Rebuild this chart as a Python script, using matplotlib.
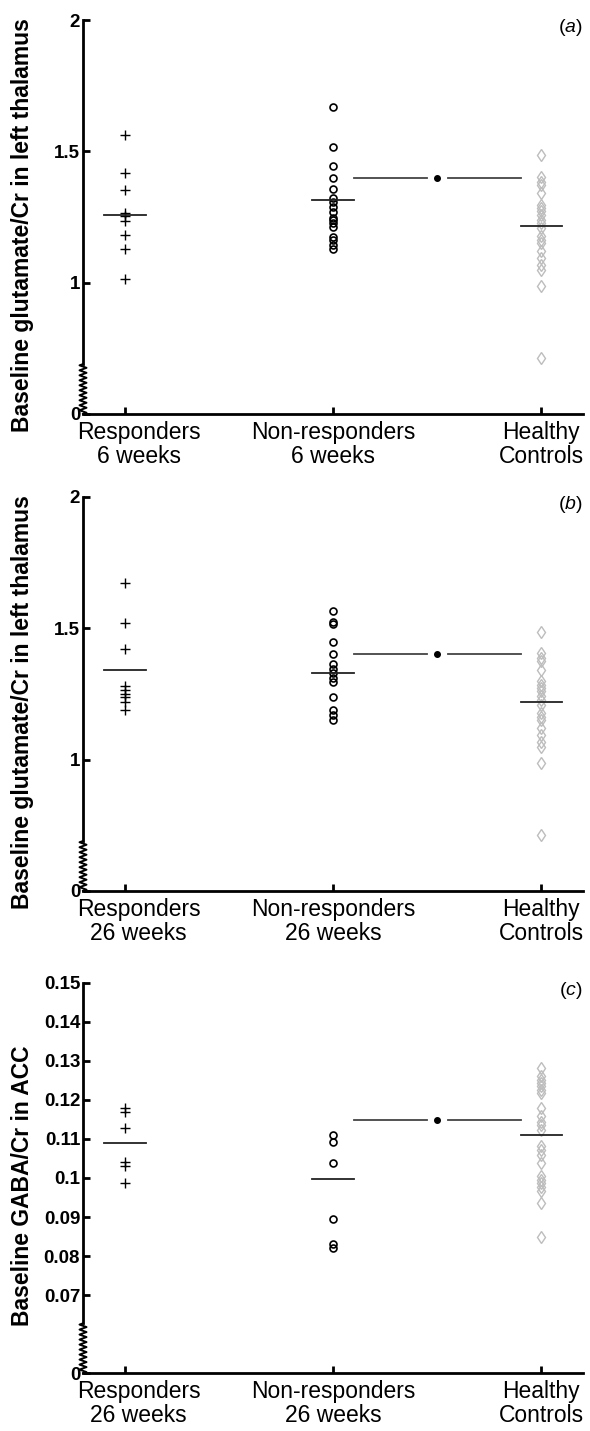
import numpy as np
import matplotlib
matplotlib.use("Agg")
import matplotlib.pyplot as plt
import matplotlib.transforms as mtransforms

plt.rcParams['font.family'] = ['Liberation Sans', 'DejaVu Sans']
plt.rcParams['mathtext.fontset'] = 'custom'
plt.rcParams['mathtext.it'] = 'Liberation Sans:italic'
plt.rcParams['mathtext.rm'] = 'Liberation Sans'

# ---- data ----
glu_resp_6wk = [1.563, 1.418, 1.354, 1.265, 1.255, 1.233, 1.183, 1.130, 1.014]
glu_nonresp_6wk = [1.669, 1.517, 1.445, 1.397, 1.356, 1.324, 1.309, 1.290, 1.269,
                   1.246, 1.237, 1.227, 1.211, 1.174, 1.161, 1.142, 1.128]
glu_resp_26wk = [1.671, 1.519, 1.420, 1.280, 1.265, 1.250, 1.236, 1.218, 1.189]
glu_nonresp_26wk = [1.567, 1.523, 1.517, 1.446, 1.402, 1.364, 1.345, 1.328, 1.311,
                    1.294, 1.237, 1.187, 1.168, 1.152]
glu_healthy = [1.487, 1.404, 1.385, 1.373, 1.341, 1.297, 1.284, 1.271, 1.259, 1.240,
               1.227, 1.208, 1.176, 1.163, 1.151, 1.119, 1.094, 1.068, 1.049, 0.986, 0.714]

gaba_resp_26wk = [0.1180, 0.1169, 0.1127, 0.1041, 0.1030, 0.0986]
gaba_nonresp_26wk = [0.1111, 0.1092, 0.1039, 0.0896, 0.0831, 0.0820]
gaba_healthy = [0.1282, 0.1260, 0.1252, 0.1243, 0.1235, 0.1226, 0.1218, 0.1180, 0.1158,
                0.1143, 0.1135, 0.1124, 0.1082, 0.1071, 0.1060, 0.1039, 0.1004, 0.0995,
                0.0987, 0.0976, 0.0967, 0.0937, 0.0848]

means_a = [1.256, 1.316, 1.217]
means_b = [1.340, 1.331, 1.220]
means_c = [0.1089, 0.0998, 0.1109]
sig_a, sig_b, sig_c = 1.40, 1.40, 0.1148

glu_ticks = [0.5, 1, 1.5, 2]
glu_ticklabels = ['0', '1', '1.5', '2']
gaba_ticks = [0.05, 0.07, 0.08, 0.09, 0.10, 0.11, 0.12, 0.13, 0.14, 0.15]
gaba_ticklabels = ['0', '0.07', '0.08', '0.09', '0.1', '0.11', '0.12', '0.13', '0.14', '0.15']

xlabels_6 = ['Responders\n6 weeks', 'Non-responders\n6 weeks', 'Healthy\nControls']
xlabels_26 = ['Responders\n26 weeks', 'Non-responders\n26 weeks', 'Healthy\nControls']


def draw_panel(ax, groups, means, sig_y, ylim, brk, ticks, ticklabels, xlabels, ylabel, tag):
    pos = [1, 2, 3]
    styles = [dict(marker='+', ms=7, mew=1.0, color='black', mfc='none'),
              dict(marker='o', ms=5, mew=1.2, color='black', mfc='none'),
              dict(marker='d', ms=6.5, mew=1.0, color='#bdbdbd', mfc='none')]
    for p, vals, st in zip(pos, groups, styles):
        ax.plot([p] * len(vals), vals, ls='none', clip_on=False, **st)
    for p, m in zip(pos, means):
        ax.plot([p - 0.1, p + 0.1], [m, m], color='#222222', lw=1.3)
    # significance bar
    ax.plot([2.1, 2.45], [sig_y, sig_y], color='#444444', lw=1.3)
    ax.plot([2.55, 2.9], [sig_y, sig_y], color='#444444', lw=1.3)
    ax.plot([2.5], [sig_y], marker='o', ms=4, color='black')

    ax.set_xlim(0.8, 3.2)
    ax.set_ylim(*ylim)
    ax.spines['top'].set_visible(False)
    ax.spines['right'].set_visible(False)
    ax.spines['left'].set_linewidth(2)
    ax.spines['bottom'].set_linewidth(2)
    ax.spines['left'].set_bounds(brk, ylim[1])

    # broken-axis zigzag
    n = 20
    zy = np.linspace(ylim[0], brk, 2 * n + 1)
    zx = np.zeros_like(zy)
    zx[1::2] = np.where(np.arange(n) % 2 == 0, 0.007, -0.007)
    ax.plot(zx, zy, color='black', lw=1.4, transform=ax.get_yaxis_transform(), clip_on=False)

    ax.set_yticks(ticks)
    ax.set_yticklabels(ticklabels, fontweight='bold', fontsize=13.5)
    ax.set_xticks(pos)
    ax.set_xticklabels(xlabels, fontsize=16.5, linespacing=1.05)
    ax.tick_params(axis='both', direction='in', length=5, width=2, pad=2)
    ax.tick_params(axis='x', pad=5)
    # first category label sits a bit to the right, clear of the "0"
    lab = ax.get_xticklabels()[0]
    lab.set_transform(lab.get_transform() +
                      mtransforms.ScaledTranslation(0.14, 0, ax.figure.dpi_scale_trans))
    ax.set_ylabel(ylabel, fontweight='bold', fontsize=16.5)
    ax.yaxis.set_label_coords(-0.098, 0.48)
    ax.text(1.0, 0.98, '($\\mathit{' + tag + '}$)', transform=ax.transAxes,
            ha='right', va='center', fontsize=14)


fig = plt.figure(figsize=(5.9, 14.31), dpi=100)
ax_a = fig.add_axes([0.1407, 0.7107, 0.8475, 0.2753])
ax_b = fig.add_axes([0.1407, 0.3774, 0.8475, 0.2755])
ax_c = fig.add_axes([0.1407, 0.0403, 0.8475, 0.2730])

draw_panel(ax_a, [glu_resp_6wk, glu_nonresp_6wk, glu_healthy], means_a, sig_a,
           (0.5, 2), 0.69, glu_ticks, glu_ticklabels, xlabels_6,
           'Baseline glutamate/Cr in left thalamus', 'a')
draw_panel(ax_b, [glu_resp_26wk, glu_nonresp_26wk, glu_healthy], means_b, sig_b,
           (0.5, 2), 0.69, glu_ticks, glu_ticklabels, xlabels_26,
           'Baseline glutamate/Cr in left thalamus', 'b')
draw_panel(ax_c, [gaba_resp_26wk, gaba_nonresp_26wk, gaba_healthy], means_c, sig_c,
           (0.05, 0.15), 0.0628, gaba_ticks, gaba_ticklabels, xlabels_26,
           'Baseline GABA/Cr in ACC', 'c')

fig.savefig('out.png', dpi=100)
